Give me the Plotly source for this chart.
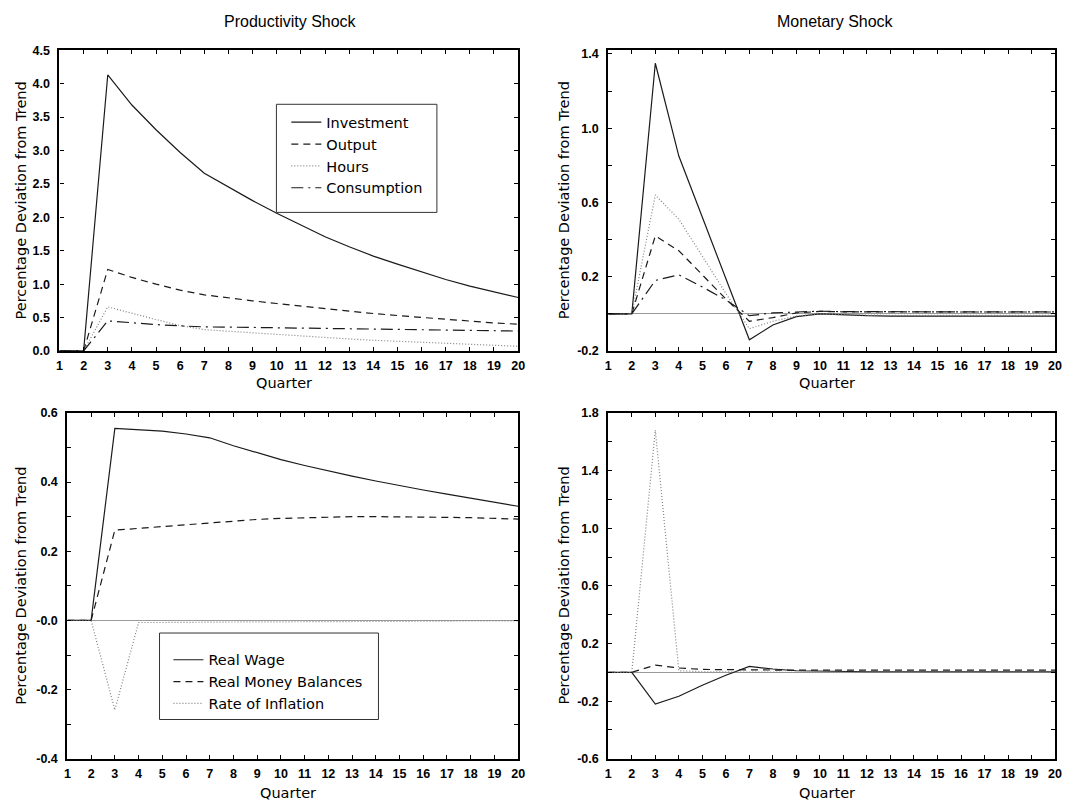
import plotly.graph_objects as go

W, H = 1069, 812

quarters = list(range(1, 21))

# Productivity shock, top panel
prod_investment = [0, 0, 4.13, 3.68, 3.31, 2.97, 2.66, 2.45, 2.25, 2.06, 1.88, 1.71, 1.56, 1.42, 1.30, 1.18, 1.07, 0.97, 0.88, 0.80]
prod_output = [0, 0, 1.22, 1.10, 1.00, 0.91, 0.84, 0.79, 0.75, 0.71, 0.67, 0.63, 0.59, 0.56, 0.53, 0.50, 0.47, 0.45, 0.42, 0.40]
prod_hours = [0, 0, 0.66, 0.56, 0.47, 0.38, 0.32, 0.295, 0.27, 0.245, 0.22, 0.20, 0.18, 0.16, 0.145, 0.13, 0.115, 0.10, 0.085, 0.07]
prod_consumption = [0, 0, 0.45, 0.42, 0.395, 0.375, 0.36, 0.357, 0.353, 0.348, 0.343, 0.338, 0.333, 0.328, 0.323, 0.318, 0.313, 0.308, 0.303, 0.298]

# Monetary shock, top panel
mon_investment = [0, 0, 1.35, 0.85, 0.52, 0.19, -0.14, -0.06, -0.015, 0.0, -0.007, -0.01, -0.012, -0.012, -0.012, -0.012, -0.012, -0.012, -0.012, -0.012]
mon_output = [0, 0, 0.42, 0.34, 0.21, 0.08, -0.04, -0.02, 0.005, 0.013, 0.011, 0.01, 0.01, 0.01, 0.01, 0.01, 0.01, 0.01, 0.01, 0.01]
mon_hours = [0, 0, 0.64, 0.51, 0.31, 0.11, -0.08, -0.04, -0.012, 0.0, -0.005, -0.008, -0.008, -0.008, -0.008, -0.008, -0.008, -0.008, -0.008, -0.008]
mon_consumption = [0, 0, 0.18, 0.21, 0.145, 0.075, -0.01, 0.005, 0.01, 0.014, 0.012, 0.011, 0.011, 0.011, 0.011, 0.011, 0.011, 0.011, 0.011, 0.011]

# Productivity shock, bottom panel
prod_wage = [0, 0, 0.555, 0.552, 0.547, 0.539, 0.528, 0.505, 0.484, 0.465, 0.448, 0.432, 0.417, 0.403, 0.389, 0.377, 0.365, 0.353, 0.342, 0.330]
prod_money = [0, 0, 0.261, 0.266, 0.271, 0.277, 0.283, 0.288, 0.292, 0.295, 0.297, 0.299, 0.300, 0.300, 0.300, 0.299, 0.298, 0.297, 0.295, 0.293]
prod_inflation = [0, 0, -0.259, -0.006, -0.006, -0.005, -0.005, -0.005, -0.004, -0.004, -0.004, -0.003, -0.003, -0.003, -0.002, -0.002, -0.002, -0.001, -0.001, -0.001]

# Monetary shock, bottom panel
mon_wage = [0, 0, -0.22, -0.166, -0.09, -0.02, 0.041, 0.023, 0.011, 0.007, 0.005, 0.004, 0.004, 0.004, 0.004, 0.004, 0.004, 0.004, 0.004, 0.004]
mon_money = [0, 0, 0.05, 0.03, 0.02, 0.017, 0.016, 0.016, 0.015, 0.015, 0.015, 0.015, 0.015, 0.015, 0.015, 0.015, 0.015, 0.015, 0.015, 0.015]
mon_inflation = [0, 0, 1.68, 0.011, 0.004, 0.002, 0.001, 0.0, 0.0, 0.0, 0.0, 0.0, 0.0, 0.0, 0.0, 0.0, 0.0, 0.0, 0.0, 0.0]

# tick labels
x_ticklabels = [str(q) for q in quarters]
tl_yticks = [0.0, 0.5, 1.0, 1.5, 2.0, 2.5, 3.0, 3.5, 4.0, 4.5]
tl_ylabels = ["0.0", "0.5", "1.0", "1.5", "2.0", "2.5", "3.0", "3.5", "4.0", "4.5"]
tr_yticks = [-0.2, 0.0, 0.2, 0.4, 0.6, 0.8, 1.0, 1.2, 1.4]
tr_ylabels = ["-0.2", "", "0.2", "", "0.6", "", "1.0", "", "1.4"]
bl_yticks = [-0.4, -0.3, -0.2, -0.1, 0.0, 0.1, 0.2, 0.3, 0.4, 0.5, 0.6]
bl_ylabels = ["-0.4", "", "-0.2", "", "-0.0", "", "0.2", "", "0.4", "", "0.6"]
br_yticks = [-0.6, -0.4, -0.2, 0.0, 0.2, 0.4, 0.6, 0.8, 1.0, 1.2, 1.4, 1.6, 1.8]
br_ylabels = ["-0.6", "", "-0.2", "", "0.2", "", "0.6", "", "1.0", "", "1.4", "", "1.8"]

# ---------------- styles ----------------
BLACK = "#1a1a1a"
GRAY = "#808080"
SOLID = dict(color=BLACK, width=1.2)
DASHED = dict(color=BLACK, width=1.2, dash="7px,5px")
DOTTED = dict(color=GRAY, width=1.2, dash="1px,2px")
DASHDOT = dict(color=BLACK, width=1.2, dash="12px,5px,2px,5px")

def px_x(p):
    return p / W

def px_y(p):
    return 1 - p / H

panels = {
    "tl": dict(x=(57, 520), y=(44, 350)),
    "tr": dict(x=(611, 1062), y=(44, 350)),
    "bl": dict(x=(65, 520), y=(413, 765)),
    "br": dict(x=(611, 1062), y=(413, 765)),
}

fig = go.Figure()

def add(x, y, line, name, xa, ya, legend=None):
    fig.add_trace(go.Scatter(
        x=x, y=y, mode="lines", line=line, name=name,
        xaxis=xa, yaxis=ya,
        showlegend=legend is not None,
        legend=legend if legend else "legend",
        legendgroup=name,
        hoverinfo="skip",
    ))

add(quarters, prod_investment, SOLID, "Investment", "x", "y", "legend")
add(quarters, prod_output, DASHED, "Output", "x", "y", "legend")
add(quarters, prod_hours, DOTTED, "Hours", "x", "y", "legend")
add(quarters, prod_consumption, DASHDOT, "Consumption", "x", "y", "legend")

add(quarters, mon_investment, SOLID, "Investment", "x2", "y2")
add(quarters, mon_output, DASHED, "Output", "x2", "y2")
add(quarters, mon_hours, DOTTED, "Hours", "x2", "y2")
add(quarters, mon_consumption, DASHDOT, "Consumption", "x2", "y2")

add(quarters, prod_wage, SOLID, "Real Wage", "x3", "y3", "legend2")
add(quarters, prod_money, DASHED, "Real Money Balances", "x3", "y3", "legend2")
add(quarters, prod_inflation, DOTTED, "Rate of Inflation", "x3", "y3", "legend2")

add(quarters, mon_wage, SOLID, "Real Wage", "x4", "y4")
add(quarters, mon_money, DASHED, "Real Money Balances", "x4", "y4")
add(quarters, mon_inflation, DOTTED, "Rate of Inflation", "x4", "y4")

TICKFONT = dict(family="Liberation Sans, Arial, sans-serif", size=12.5, color="black", weight="bold")

def xaxis_cfg(dom, anchor):
    return dict(
        domain=[px_x(dom[0]), px_x(dom[1])], anchor=anchor,
        range=[1, 20], tickvals=quarters, ticktext=x_ticklabels,
        ticks="inside", ticklen=4, tickwidth=1, tickcolor="black",
        showline=True, linewidth=2.2, linecolor="black", mirror="allticks",
        showgrid=False, zeroline=False, tickfont=TICKFONT, tickangle=0,
        ticklabelstandoff=2, fixedrange=True,
    )

def yaxis_cfg(dom, anchor, rng, tv, tt, zero=True):
    return dict(
        domain=[px_y(dom[1]), px_y(dom[0])], anchor=anchor,
        range=rng, tickvals=tv, ticktext=tt,
        ticks="inside", ticklen=4, tickwidth=1, tickcolor="black",
        showline=True, linewidth=2.2, linecolor="black", mirror="allticks",
        showgrid=False, zeroline=zero, zerolinecolor="#9a9a9a", zerolinewidth=1,
        tickfont=TICKFONT, ticklabelstandoff=5, fixedrange=True,
    )

fig.update_layout(
    xaxis=xaxis_cfg(panels["tl"]["x"], "y"),
    yaxis=yaxis_cfg(panels["tl"]["y"], "x", [0, 4.5], tl_yticks, tl_ylabels, zero=False),
    xaxis2=xaxis_cfg(panels["tr"]["x"], "y2"),
    yaxis2=yaxis_cfg(panels["tr"]["y"], "x2", [-0.2, 1.42], tr_yticks, tr_ylabels),
    xaxis3=xaxis_cfg(panels["bl"]["x"], "y3"),
    yaxis3=yaxis_cfg(panels["bl"]["y"], "x3", [-0.4, 0.6], bl_yticks, bl_ylabels),
    xaxis4=xaxis_cfg(panels["br"]["x"], "y4"),
    yaxis4=yaxis_cfg(panels["br"]["y"], "x4", [-0.6, 1.8], br_yticks, br_ylabels),
)

LABEL_FONT = dict(family="DejaVu Sans, sans-serif", size=14.5, color="black")
TITLE_FONT = dict(family="Liberation Sans, Arial, sans-serif", size=16, color="black")

annotations = []
# column titles
annotations.append(dict(text="Productivity Shock", x=px_x(290), y=px_y(15), xref="paper", yref="paper",
                        showarrow=False, font=TITLE_FONT, xanchor="center", yanchor="middle"))
annotations.append(dict(text="Monetary Shock", x=px_x(840), y=px_y(15), xref="paper", yref="paper",
                        showarrow=False, font=TITLE_FONT, xanchor="center", yanchor="middle"))
# axis titles
for key, ytitle_x, xtitle_y in [("tl", 18, 383), ("tr", 566, 383), ("bl", 18, 800), ("br", 566, 800)]:
    p = panels[key]
    annotations.append(dict(text="Percentage Deviation from Trend", x=px_x(ytitle_x),
                            y=px_y((p["y"][0] + p["y"][1]) / 2), xref="paper", yref="paper",
                            showarrow=False, textangle=-90, font=LABEL_FONT,
                            xanchor="center", yanchor="middle"))
    annotations.append(dict(text="Quarter", x=px_x((p["x"][0] + p["x"][1]) / 2 - 5), y=px_y(xtitle_y),
                            xref="paper", yref="paper", showarrow=False, font=LABEL_FONT,
                            xanchor="center", yanchor="middle"))

shapes = [
    dict(type="rect", xref="paper", yref="paper", x0=px_x(276), x1=px_x(438), y0=px_y(209), y1=px_y(99),
         line=dict(color="#333333", width=1), fillcolor="rgba(0,0,0,0)", layer="above"),
    dict(type="rect", xref="paper", yref="paper", x0=px_x(158), x1=px_x(379), y0=px_y(725), y1=px_y(637),
         line=dict(color="#333333", width=1), fillcolor="rgba(0,0,0,0)", layer="above"),
]

LEGEND_FONT = dict(family="DejaVu Sans, sans-serif", size=14.5, color="black")

fig.update_layout(
    width=W, height=H,
    margin=dict(l=0, r=0, t=0, b=0),
    paper_bgcolor="white", plot_bgcolor="white",
    annotations=annotations,
    shapes=shapes,
    legend=dict(x=px_x(286), y=px_y(101), xanchor="left", yanchor="top",
                bgcolor="rgba(0,0,0,0)", borderwidth=0, font=LEGEND_FONT,
                tracegroupgap=0, itemwidth=30),
    legend2=dict(x=px_x(167), y=px_y(648), xanchor="left", yanchor="top",
                 bgcolor="rgba(0,0,0,0)", borderwidth=0, font=LEGEND_FONT,
                 tracegroupgap=0, itemwidth=30),
    showlegend=True,
)

fig.write_html("out.html")
